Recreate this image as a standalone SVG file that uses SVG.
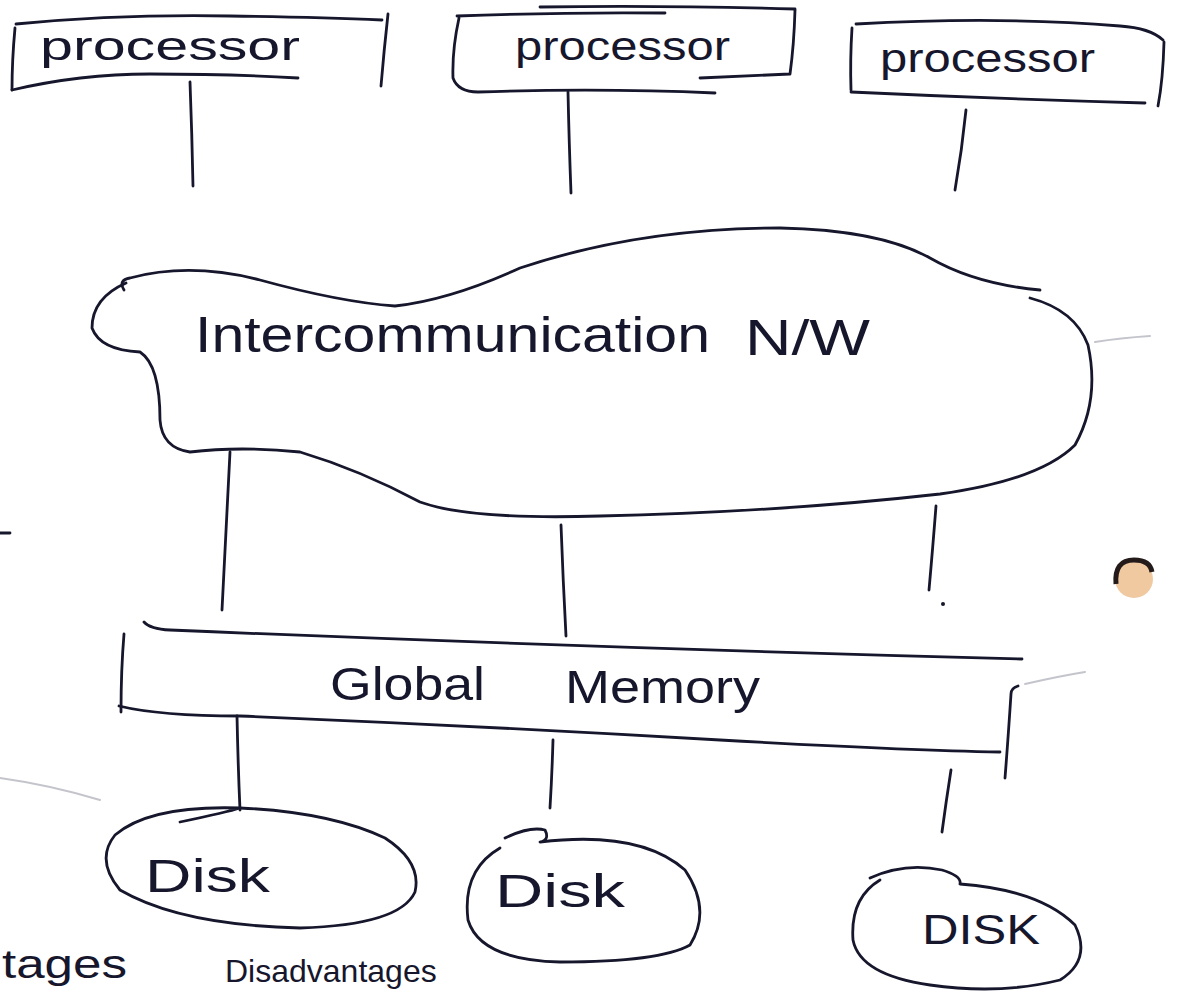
<svg xmlns="http://www.w3.org/2000/svg" width="1179" height="992" viewBox="0 0 1179 992">
<style>
.ink{fill:none;stroke:#16162c;stroke-width:2.8;stroke-linecap:round;stroke-linejoin:round}
.t{font-family:"Liberation Sans",Arial,sans-serif;fill:#16162c;font-weight:normal}
.faint{fill:none;stroke:#c4c4cc;stroke-width:2;stroke-linecap:round}
</style>
<rect width="1179" height="992" fill="#ffffff"/>
<g id="processor1">
<path class="ink" d="M16,24 Q120,14 230,16 Q320,17 382,20"/>
<path class="ink" d="M15,28 Q12,60 12,90"/>
<path class="ink" d="M12,90 Q80,74 150,74 Q230,74 298,78"/>
<path class="ink" d="M388,14 Q384,50 381,86"/>
<text class="t" x="40" y="60" font-size="40" textLength="260" lengthAdjust="spacingAndGlyphs">processor</text>
</g>
<g id="processor2">
<path class="ink" d="M457,16 Q560,12 665,13"/>
<path class="ink" d="M540,7 Q660,5 795,9"/>
<path class="ink" d="M459,18 Q452,50 453,78 Q458,92 478,92 Q600,88 715,93"/>
<path class="ink" d="M795,10 Q794,45 790,74 L700,78"/>
<text class="t" x="515" y="60" font-size="40" textLength="215" lengthAdjust="spacingAndGlyphs">processor</text>
</g>
<g id="processor3">
<path class="ink" d="M856,24 Q1000,16 1120,26 Q1150,28 1163,40"/>
<path class="ink" d="M852,28 Q850,60 851,90"/>
<path class="ink" d="M851,92 Q1000,99 1145,103"/>
<path class="ink" d="M1164,42 Q1163,80 1158,106"/>
<text class="t" x="880" y="72" font-size="40" textLength="215" lengthAdjust="spacingAndGlyphs">processor</text>
</g>
<g id="network">
<path class="ink" d="M124,290 Q118,280 130,278 Q190,262 260,280 Q340,302 395,306 Q450,300 520,268 Q640,228 780,228 Q880,230 930,258 Q975,284 1040,290"/>
<path class="ink" d="M1030,298 Q1075,310 1088,345 Q1100,400 1075,445 Q1040,480 940,494 Q780,512 600,516 Q470,520 420,502 Q360,470 300,452 Q240,446 190,452 Q162,448 160,420 Q160,365 140,352 Q100,350 92,328 Q92,298 126,283"/>
<text class="t" x="195" y="352" font-size="50" textLength="515" lengthAdjust="spacingAndGlyphs">Intercommunication</text>
<text class="t" x="745" y="355" font-size="50" textLength="125" lengthAdjust="spacingAndGlyphs">N/W</text>
</g>
<g id="globalmemory">
<path class="ink" d="M144,622 Q150,629 170,630 Q600,648 1022,659"/>
<path class="ink" d="M124,634 Q121,670 121,712"/>
<path class="ink" d="M119,706 Q160,716 240,716 Q480,726 720,740 Q900,750 1000,752"/>
<path class="ink" d="M1018,686 Q1011,688 1011,694 Q1008,740 1005,778"/>
<text class="t" x="330" y="700" font-size="46" textLength="155" lengthAdjust="spacingAndGlyphs">Global</text>
<text class="t" x="565" y="703" font-size="46" textLength="195" lengthAdjust="spacingAndGlyphs">Memory</text>
</g>
<g id="disk1">
<path class="ink" d="M240,808 Q330,812 385,838 Q422,862 415,892 Q400,925 300,928 Q180,925 120,890 Q95,860 115,835 Q150,805 240,808 Q228,812 180,822"/>
<text class="t" x="145" y="892" font-size="46" textLength="125" lengthAdjust="spacingAndGlyphs">Disk</text>
</g>
<g id="disk2">
<path class="ink" d="M505,838 Q530,826 545,830 Q550,840 540,842 Q640,830 685,870 Q712,910 690,945 Q660,962 560,962 Q480,960 468,920 Q462,870 500,848"/>
<text class="t" x="495" y="907" font-size="46" textLength="130" lengthAdjust="spacingAndGlyphs">Disk</text>
</g>
<g id="disk3">
<path class="ink" d="M870,878 Q905,862 942,870 Q962,876 960,884 Q1040,890 1075,925 Q1092,960 1060,980 Q1000,995 930,985 Q860,975 853,940 Q850,898 880,880"/>
<text class="t" x="922" y="944" font-size="42" textLength="118" lengthAdjust="spacingAndGlyphs">DISK</text>
</g>
<g id="connectors">
<path class="ink" d="M190,82 Q192,135 193,186"/>
<path class="ink" d="M568,92 Q569,140 571,193"/>
<path class="ink" d="M966,110 Q962,150 955,190"/>
<path class="ink" d="M230,452 Q226,530 222,610"/>
<path class="ink" d="M561,525 Q563,580 566,636"/>
<path class="ink" d="M936,506 Q933,545 929,590"/>
<path class="ink" d="M237,716 Q238,765 240,810"/>
<path class="ink" d="M553,740 Q552,775 550,808"/>
<path class="ink" d="M951,770 Q946,802 942,832"/>
</g>
<g id="notes">
<text class="t" x="2" y="978" font-size="40" textLength="125" lengthAdjust="spacingAndGlyphs">tages</text>
<text class="t" x="225" y="982" font-size="32">Disadvantages</text>
<path class="ink" d="M0,533 L10,533"/>
<circle cx="943" cy="604" r="2" fill="#16162c"/>
<circle cx="1134" cy="579" r="19" fill="#f1c9a0"/>
<path d="M1116,584 Q1114,560 1134,560 Q1150,560 1152,572" fill="none" stroke="#241a1a" stroke-width="5"/>
<path class="faint" d="M1095,342 Q1120,338 1150,336"/>
<path class="faint" d="M1025,684 Q1060,676 1085,672"/>
<path class="faint" d="M0,778 Q50,785 100,800"/>
</g>
</svg>
